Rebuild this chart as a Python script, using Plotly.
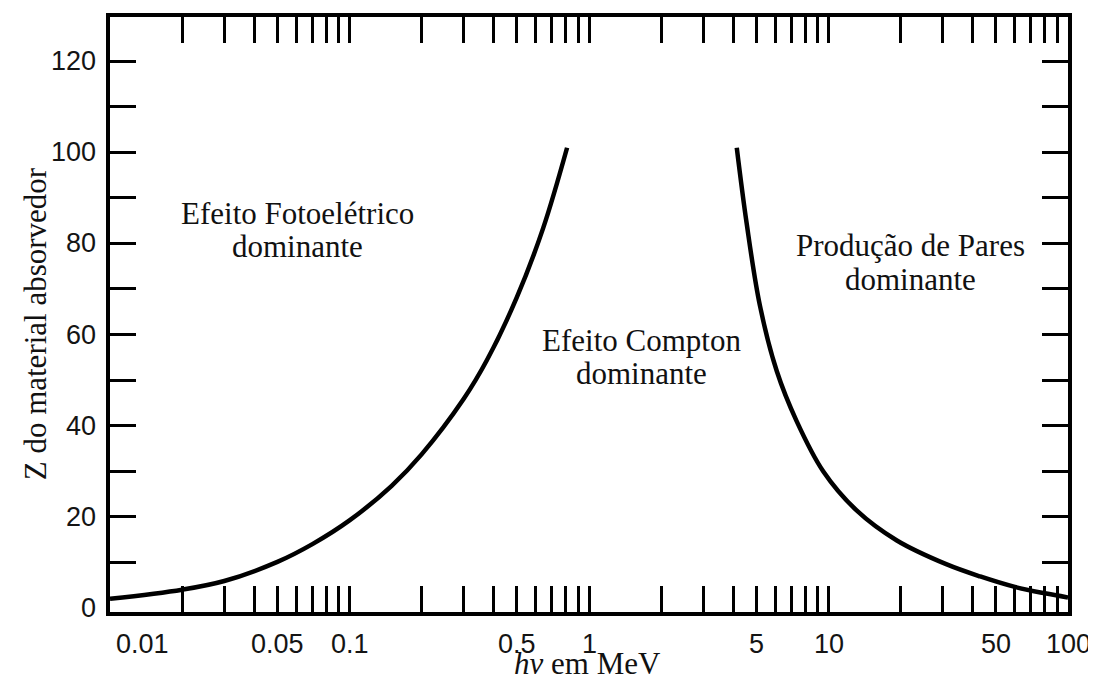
import numpy as np
import plotly.graph_objects as go

# Photoelectric / Compton boundary (hv in MeV, Z)
foto_hv = [0.01, 0.02, 0.03, 0.05, 0.07, 0.1, 0.15, 0.2, 0.3, 0.375, 0.5, 0.643, 0.81]
foto_z = [2.0, 4.0, 5.9, 10.1, 14.0, 19.2, 26.8, 33.7, 45.9, 54.4, 68.2, 83.3, 101.0]

# Compton / pair production boundary
pares_hv = [4.14, 4.55, 5.17, 6.08, 7.36, 9.5, 13.1, 19.3, 31.0, 43.0, 60.0, 80.0, 100.0]
pares_z = [101.0, 84.5, 66.4, 52.0, 41.0, 30.0, 21.4, 14.8, 9.6, 6.9, 4.6, 3.2, 2.3]

x_label_vals = [0.01, 0.05, 0.1, 0.5, 1, 5, 10, 50, 100]
x_label_text = ["0.01", "0.05", "0.1", "0.5", "1", "5", "10", "50", "100"]
y_label_vals = [0, 20, 40, 60, 80, 100, 120]
y_tick_vals = [10, 20, 30, 40, 50, 60, 70, 80, 90, 100, 110, 120]

x_tick_vals = []
for dec in [0.01, 0.1, 1, 10]:
    for m in range(2, 11):
        x_tick_vals.append(round(dec * m, 6))

regions = [
    ("Efeito Fotoelétrico", "dominante", 0.0604, 86.5, 79.3),
    ("Efeito Compton", "dominante", 1.66, 58.6, 51.4),
    ("Produção de Pares", "dominante", 22.1, 79.5, 72.1),
]

fig = go.Figure()
for xs, ys in [(foto_hv, foto_z), (pares_hv, pares_z)]:
    fig.add_trace(go.Scatter(x=xs, y=ys, mode="lines",
                             line=dict(color="black", width=4.5, shape="spline", smoothing=1.0),
                             showlegend=False, hoverinfo="skip"))

axis_common = dict(showline=True, linecolor="black", linewidth=3.5, mirror="ticks", ticks="inside",
                   ticklen=26, tickwidth=3, tickcolor="black", showgrid=False, zeroline=False,
                   showticklabels=False)
fig.update_xaxes(type="log", range=[-2, 2], tickmode="array", tickvals=x_tick_vals, **axis_common)
fig.update_yaxes(range=[-0.9, 129.7], tickmode="array", tickvals=y_tick_vals, **axis_common)

ann = []
tick_font = dict(family="Liberation Sans, Arial, sans-serif", size=27, color="#141414")
for v, t in zip(x_label_vals, x_label_text):
    ann.append(dict(x=np.log10(v), y=0, xref="x", yref="paper", text=t, showarrow=False,
                    xanchor="center", yanchor="middle", yshift=-32, xshift=32 if v == 0.01 else 0,
                    font=tick_font))
for v in y_label_vals:
    ann.append(dict(x=0, y=v, xref="paper", yref="y", text=str(v), showarrow=False,
                    xanchor="right", yanchor="middle", xshift=-12, font=tick_font))

serif = dict(family="Liberation Serif, Times New Roman, serif", size=31, color="#111")
for l1, l2, xv, y1, y2 in regions:
    ann.append(dict(x=np.log10(xv), y=y1, xref="x", yref="y", text=l1, showarrow=False,
                    xanchor="center", yanchor="middle", font=serif))
    ann.append(dict(x=np.log10(xv), y=y2, xref="x", yref="y", text=l2, showarrow=False,
                    xanchor="center", yanchor="middle", font=serif))

ann.append(dict(x=-0.078, y=0.484, xref="paper", yref="paper", text="Z do material absorvedor",
                textangle=-90, showarrow=False, xanchor="center", yanchor="middle", font=serif))
ann.append(dict(x=0.498, y=-0.087, xref="paper", yref="paper", text="<i>hv</i> em MeV",
                showarrow=False, xanchor="center", yanchor="middle", font=serif))

# page body has an 8px default margin, so the figure is sized to fit inside the window
fig.update_layout(width=1088, height=674, margin=dict(l=102, r=28, t=5, b=70),
                  plot_bgcolor="white", paper_bgcolor="white", annotations=ann)

fig.write_html("out.html")
